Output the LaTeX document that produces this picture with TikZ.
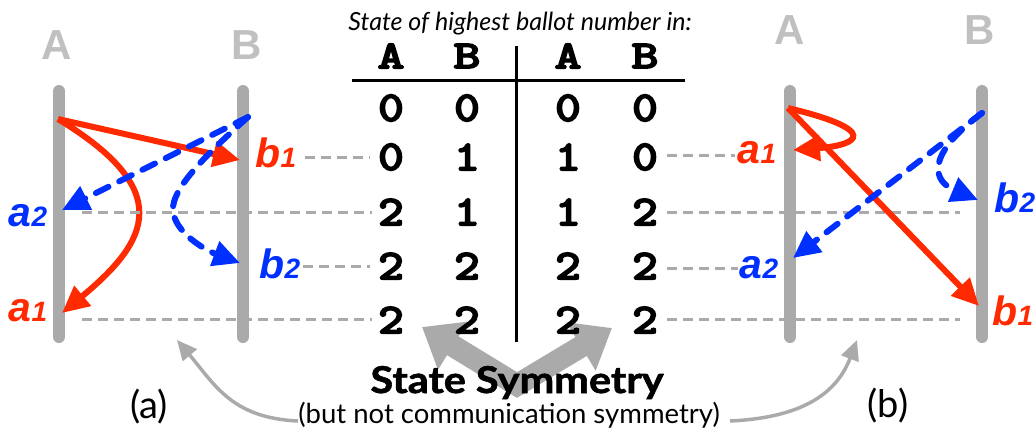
\documentclass[tikz,border=0pt]{standalone}
\usepackage{fontspec}
\usepackage{graphicx}
\setmainfont{Lato}
\newfontfamily\labelfont{Liberation Sans}
\newfontfamily\cellfont{lmmonolt10-bold}[Extension=.otf, FakeBold=3]
\newfontfamily\heavyfont{Lato Bold}[FakeBold=1.5]
\usetikzlibrary{arrows.meta}

\definecolor{lane}{RGB}{170,170,170}
\definecolor{lanetext}{RGB}{192,192,192}
\definecolor{msgred}{RGB}{255,42,0}
\definecolor{msgblue}{RGB}{0,48,255}

\newcommand{\setfs}[1]{\fontsize{#1}{#1}\selectfont}
\newcommand{\evlab}[2]{#1{\setfs{28}#2}}
\newcommand{\cellval}[1]{\scalebox{1.15}[1]{#1}}
\newcommand{\headval}[1]{\scalebox{1.3}[1]{#1}}

\tikzset{
  timeline/.style={draw=lane, line width=12pt, line cap=round},
  procname/.style={text=lanetext, font=\labelfont\bfseries\setfs{42}, inner sep=0pt},
  evlabel/.style={font=\labelfont\bfseries\itshape\setfs{41}, inner sep=0pt},
  msgtip/.style={-{Triangle[length=27pt,width=25pt]}},
  redmsg/.style={draw=msgred, line width=6pt, msgtip},
  bluemsg/.style={draw=msgblue, line width=6pt, line cap=round, dash pattern=on 14pt off 12pt, msgtip},
  guide/.style={draw=lane, line width=3pt, dash pattern=on 10pt off 6pt},
  cell/.style={font=\cellfont\setfs{43}, inner sep=0pt},
  headcell/.style={font=\cellfont\setfs{40}, inner sep=0pt},
  rule/.style={draw=black, line width=3pt},
  bigarrow/.style={draw=lane, line width=22pt, line join=miter,
    {Triangle[length=36pt,width=54pt]}-{Triangle[length=36pt,width=54pt]}},
  pointer/.style={draw=lane, line width=3.5pt, -{Triangle[length=20pt,width=18pt]}},
  caption/.style={font=\setfs{38}, inner sep=0pt}
}

\begin{document}
\begin{tikzpicture}[x=1pt, y=-1pt]
\useasboundingbox (0,0) rectangle (1036,437);

% ---------- symmetry arrows (underneath the table) ----------
\coordinate (symL) at (422,327);
\coordinate (symM) at (517,385);
\coordinate (symR) at (612,328);
\draw[bigarrow] (symL) -- (symM) -- (symR);

% ---------- (a): process lanes ----------
\coordinate (aAtop) at (59,91);  \coordinate (aAbot) at (59,337);
\coordinate (aBtop) at (243,91); \coordinate (aBbot) at (243,337);
\draw[timeline] (aAtop) -- (aAbot);
\draw[timeline] (aBtop) -- (aBbot);
\node[procname] (aA) at (57,45) {A};
\node[procname] (aB) at (247,45) {B};

% (a): messages
\coordinate (aSa) at (58,119);
\coordinate (aSb) at (248,117);
\coordinate (aTb1) at (240,160);
\coordinate (aTa1) at (62,313);
\coordinate (aTa2) at (62,210);
\coordinate (aTb2) at (240,263);
\draw[redmsg] (aSa) -- (aTb1);
\draw[redmsg] (aSa) .. controls (175,190) and (150,240) .. (aTa1);
\draw[bluemsg] (aSb) -- (aTa2);
\draw[bluemsg] (aSb) .. controls (200,160) and (172,190) .. (173,210)
  .. controls (174,232) and (205,250) .. (aTb2);

\node[evlabel, text=msgred]  (ab1) at (276,153) {\evlab{b}{1}};
\node[evlabel, text=msgblue] (aa2) at (28,216) {\evlab{a}{2}};
\node[evlabel, text=msgblue] (ab2) at (280,264) {\evlab{b}{2}};
\node[evlabel, text=msgred]  (aa1) at (28,311) {\evlab{a}{1}};

% (a): guides to the table
\draw[guide] (305,157) -- (370,157);
\draw[guide] (82,212) -- (372,212);
\draw[guide] (303,266) -- (370,266);
\draw[guide] (82,319) -- (372,319);

% ---------- table ----------
\node[font=\itshape\setfs{25}, anchor=base, inner sep=0pt] (title) at (520,30)
  {State of highest ballot number in:};
\foreach \cx/\t [count=\i] in {391/A,467/B,568/A,645/B}
  \node[headcell] (h\i) at (\cx,56) {\headval{\t}};
\draw[rule] (352,80) -- (685,80);
\draw[rule] (516,46) -- (516,342);
\foreach \ry/\va/\vb/\vc/\vd [count=\r] in
   {108/0/0/0/0, 157/0/1/1/0, 212/2/1/1/2, 266/2/2/2/2, 320/2/2/2/2} {
  \node[cell] (c\r a) at (391,\ry) {\cellval{\va}};
  \node[cell] (c\r b) at (467,\ry) {\cellval{\vb}};
  \node[cell] (c\r c) at (568,\ry) {\cellval{\vc}};
  \node[cell] (c\r d) at (645,\ry) {\cellval{\vd}};
}

% ---------- (b): process lanes ----------
\coordinate (bAtop) at (790,91);  \coordinate (bAbot) at (790,337);
\coordinate (bBtop) at (982,91);  \coordinate (bBbot) at (982,337);
\draw[timeline] (bAtop) -- (bAbot);
\draw[timeline] (bBtop) -- (bBbot);
\node[procname] (bA) at (790,30) {A};
\node[procname] (bB) at (980,30) {B};

% (b): guides from the table
\draw[guide] (667,155) -- (735,155);
\draw[guide] (667,212) -- (960,212);
\draw[guide] (667,268) -- (738,268);
\draw[guide] (667,319) -- (960,319);

% (b): messages
\coordinate (bSa) at (788,108);
\coordinate (bSb) at (982,113);
\coordinate (bTa1) at (793,150);
\coordinate (bTb1) at (979,306);
\coordinate (bTa2) at (793,258);
\coordinate (bTb2) at (978,200);
\draw[redmsg] (bSa) .. controls (880,130) and (860,145) .. (bTa1);
\draw[redmsg] (bSa) -- (bTb1);
\draw[bluemsg] (bSb) -- (bTa2);
\draw[bluemsg] (bSb) .. controls (922,158) and (935,182) .. (bTb2);

\node[evlabel, text=msgred]  (ba1) at (757,153) {\evlab{a}{1}};
\node[evlabel, text=msgblue] (bb2) at (1015,198) {\evlab{b}{2}};
\node[evlabel, text=msgblue] (ba2) at (759,268) {\evlab{a}{2}};
\node[evlabel, text=msgred]  (bb1) at (1013,311) {\evlab{b}{1}};

% ---------- captions ----------
\node[anchor=base, inner sep=0pt] (sym) at (517,393)
  {\scalebox{1.12}[1]{\heavyfont\setfs{37}State Symmetry}};
\node[font=\setfs{27.5}, anchor=base, inner sep=0pt] (note) at (509,423) {(but not communication symmetry)};
\node[caption] (capa) at (149,407) {(a)};
\node[caption] (capb) at (888,406) {(b)};

\coordinate (noteL) at (298,421);
\coordinate (noteR) at (730,421);
\coordinate (tipa) at (177,340);
\coordinate (tipb) at (857,340);
\draw[pointer] (noteL) .. controls (232,418) and (215,385) .. (tipa);
\draw[pointer] (noteR) .. controls (795,418) and (835,398) .. (tipb);
\end{tikzpicture}
\end{document}
